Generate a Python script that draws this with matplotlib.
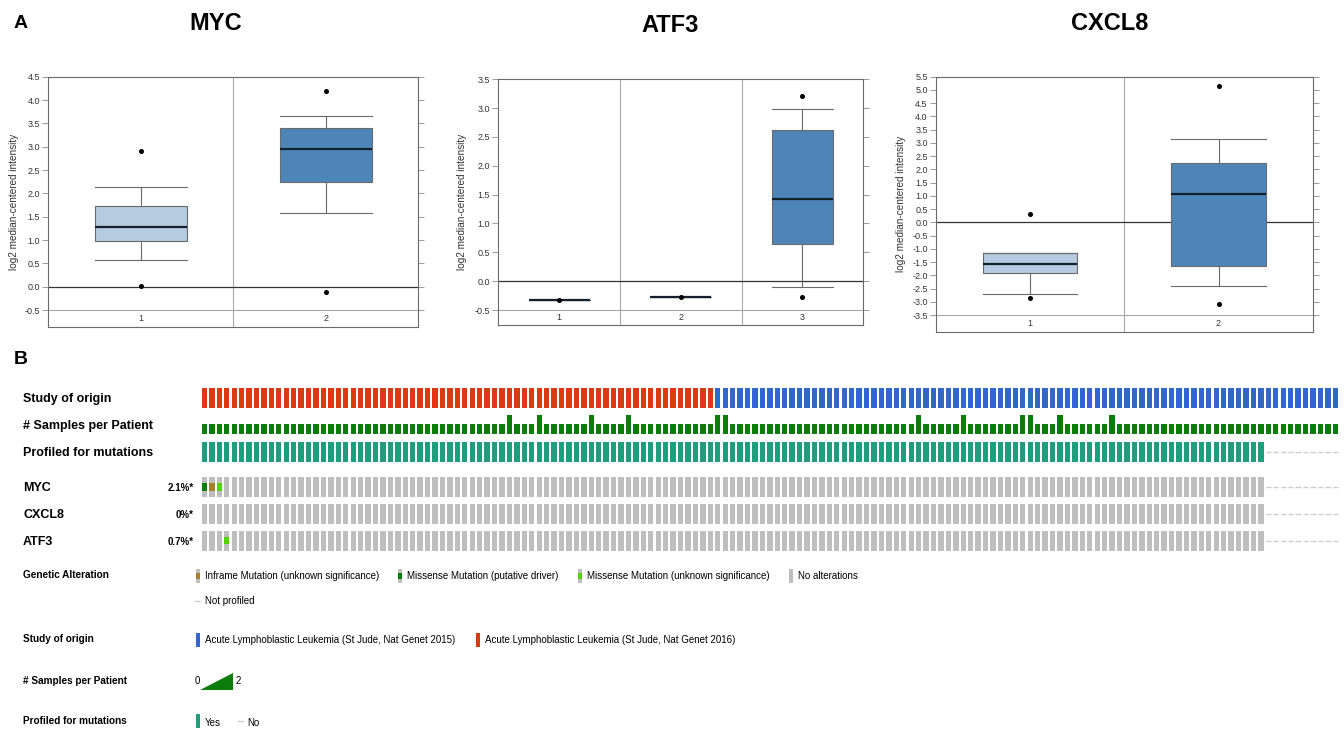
import numpy as np
import matplotlib
matplotlib.use('Agg')
import matplotlib.pyplot as plt
from matplotlib import transforms
from matplotlib.patches import Rectangle, Polygon

W, H = 1344, 730
plt.rcParams['font.family'] = ['Liberation Sans', 'DejaVu Sans']
plt.rcParams['axes.unicode_minus'] = False

# ---------------- Panel A data (box plot statistics) ----------------
myc_groups = ['1', '2']
myc_whislo = [0.57, 1.58]
myc_q1 = [0.98, 2.25]
myc_med = [1.27, 2.96]
myc_q3 = [1.73, 3.41]
myc_whishi = [2.13, 3.65]
myc_fliers = [[2.91, 0.02], [4.19, -0.11]]
myc_yticks = [-0.5, 0.0, 0.5, 1.0, 1.5, 2.0, 2.5, 3.0, 3.5, 4.0, 4.5]

atf3_groups = ['1', '2', '3']
atf3_whislo = [-0.33, -0.28, -0.10]
atf3_q1 = [-0.33, -0.28, 0.65]
atf3_med = [-0.33, -0.28, 1.42]
atf3_q3 = [-0.33, -0.28, 2.62]
atf3_whishi = [-0.33, -0.28, 2.98]
atf3_fliers = [[-0.33], [-0.28], [3.21, -0.27]]
atf3_yticks = [-0.5, 0.0, 0.5, 1.0, 1.5, 2.0, 2.5, 3.0, 3.5]

cxcl8_groups = ['1', '2']
cxcl8_whislo = [-2.69, -2.39]
cxcl8_q1 = [-1.92, -1.65]
cxcl8_med = [-1.58, 1.08]
cxcl8_q3 = [-1.17, 2.24]
cxcl8_whishi = [-1.17, 3.13]
cxcl8_fliers = [[0.31, -2.85], [5.13, -3.10]]
cxcl8_yticks = [-3.5, -3.0, -2.5, -2.0, -1.5, -1.0, -0.5, 0.0, 0.5, 1.0, 1.5,
                2.0, 2.5, 3.0, 3.5, 4.0, 4.5, 5.0, 5.5]

# ---------------- Panel B data (oncoprint) ----------------
n_2016 = 69
n_2015 = 84
two_sample_cases = [41, 45, 52, 57, 69, 70, 96, 102, 110, 111, 115, 122]
n_profiled = 143
genes = ['MYC', 'CXCL8', 'ATF3']
gene_pct = ['2.1%*', '0%*', '0.7%*']
mutations = {
    'MYC': [(0, 'missense_driver'), (1, 'inframe_vus'), (2, 'missense_vus')],
    'CXCL8': [],
    'ATF3': [(3, 'missense_vus')],
}

# colours
C_LIGHT = '#b6cbe0'
C_DARK = '#4d85b9'
C_RED = '#dc3912'
C_BLUE = '#3366cc'
C_SAMP = '#0b7d0b'
C_PROF = '#1e9e7c'
C_GRAY = '#bebebe'
C_NP = '#cccccc'
MUT_COL = {'missense_driver': '#008000', 'inframe_vus': '#a68028', 'missense_vus': '#53d400'}

fig = plt.figure(figsize=(W / 100, H / 100), dpi=100)
fig.patch.set_facecolor('white')

# overlay axes in pixel space for labels / legend
lg = fig.add_axes([0, 0, 1, 1])
lg.set_xlim(0, W)
lg.set_ylim(H, 0)
lg.axis('off')


def panel(rect_px, groups, whislo, q1, med, q3, whishi, fliers, colors, yticks,
          ybot, title, title_xy, ylabel_x):
    l, t, r, b = rect_px
    ax = fig.add_axes([l / W, 1 - b / H, (r - l) / W, (b - t) / H])
    n = len(groups)
    stats = []
    for i in range(n):
        stats.append(dict(label=groups[i], whislo=whislo[i], q1=q1[i], med=med[i],
                          q3=q3[i], whishi=whishi[i], fliers=fliers[i]))
    bp = ax.bxp(stats, positions=list(range(1, n + 1)), widths=0.5, capwidths=0.5,
                patch_artist=True, manage_ticks=False,
                boxprops=dict(edgecolor='#6a6a6a', linewidth=0.8),
                whiskerprops=dict(color='#6a6a6a', linewidth=0.8),
                capprops=dict(color='#6a6a6a', linewidth=0.8),
                medianprops=dict(color='#14202e', linewidth=1.6),
                flierprops=dict(marker='o', markersize=2.6, markerfacecolor='black',
                                markeredgecolor='black'))
    for patch, c in zip(bp['boxes'], colors):
        patch.set_facecolor(c)
    for z in bp['boxes'] + bp['whiskers'] + bp['caps'] + bp['medians'] + bp['fliers']:
        z.set_zorder(3)
    ax.set_xlim(0.5, n + 0.5)
    ax.set_ylim(ybot, yticks[-1])
    for i in range(1, n):
        ax.axvline(i + 0.5, color='#a8a8a8', lw=0.8, zorder=1)
    ax.axhline(0, color='#333333', lw=0.9, zorder=2)
    ax.axhline(yticks[0], color='#a8a8a8', lw=0.8, zorder=1)
    for i, g in enumerate(groups):
        ax.text(i + 1, (ybot + yticks[0]) / 2, g, ha='center', va='center',
                fontsize=6.5, color='#333333')
    ax.set_xticks([])
    ax.set_yticks(yticks)
    ax.set_yticklabels([f'{v:.1f}' for v in yticks])
    ax.tick_params(axis='y', left=True, right=True, direction='out', length=4,
                   width=0.7, color='#9a9a9a', labelsize=6.5, labelcolor='#333333', pad=2)
    for s in ax.spines.values():
        s.set_color('#6a6a6a')
        s.set_linewidth(0.8)
    ax.set_ylabel('log2 median-centered intensity', fontsize=7.2, color='#333333')
    ax.yaxis.set_label_coords((ylabel_x - l) / (r - l), 0.5)
    lg.text(title_xy[0], title_xy[1], title, ha='center', va='center',
            fontsize=17, fontweight='bold')
    return ax


panel((48.3, 76.7, 418.3, 326.7), myc_groups, myc_whislo, myc_q1, myc_med, myc_q3,
      myc_whishi, myc_fliers, [C_LIGHT, C_DARK], myc_yticks, -0.857, 'MYC', (216, 23), 19)
panel((498.3, 79.3, 863.3, 325.0), atf3_groups, atf3_whislo, atf3_q1, atf3_med, atf3_q3,
      atf3_whishi, atf3_fliers, [C_LIGHT, C_LIGHT, C_DARK], atf3_yticks, -0.76, 'ATF3',
      (670, 25), 467)
panel((936.0, 76.7, 1312.7, 331.7), cxcl8_groups, cxcl8_whislo, cxcl8_q1, cxcl8_med,
      cxcl8_q3, cxcl8_whishi, cxcl8_fliers, [C_LIGHT, C_DARK], cxcl8_yticks, -4.13,
      'CXCL8', (1110, 23), 906)

lg.text(14, 24, 'A', fontsize=14, fontweight='bold', va='center', ha='left')
lg.text(14, 360, 'B', fontsize=14, fontweight='bold', va='center', ha='left')

# ---------------- Oncoprint ----------------
n_cases = n_2016 + n_2015
study = ['2016'] * n_2016 + ['2015'] * n_2015
samples = np.array([2 if i in two_sample_cases else 1 for i in range(n_cases)])
x = np.arange(n_cases)

ol, ot, orr, ob = 200.7, 385.0, 1339.0, 555.0
ox = fig.add_axes([ol / W, 1 - ob / H, (orr - ol) / W, (ob - ot) / H])
ox.set_xlim(-0.5, n_cases - 0.5)
ox.set_ylim(5.82, -0.48)
ox.axis('off')

BW = 0.72
RH = 0.74
# study of origin
ox.bar(x, RH, bottom=-RH / 2, width=BW,
       color=[C_RED if s == '2016' else C_BLUE for s in study], linewidth=0)
# samples per patient
ox.bar(x, samples * 0.35, bottom=1.33 - samples * 0.35, width=BW, color=C_SAMP, linewidth=0)
# profiled
prof = x[:n_profiled]
notprof = x[n_profiled:]
ox.bar(prof, RH, bottom=2 - RH / 2, width=BW, color=C_PROF, linewidth=0)
ox.hlines(np.full(len(notprof), 2.0), notprof - BW / 2, notprof + BW / 2, color=C_NP, lw=1)

gene_rows = [3.3, 4.3, 5.3]
for g, yr in zip(genes, gene_rows):
    ox.bar(prof, RH, bottom=yr - RH / 2, width=BW, color=C_GRAY, linewidth=0)
    ox.hlines(np.full(len(notprof), yr), notprof - BW / 2, notprof + BW / 2, color=C_NP, lw=1)
    for ci, mt in mutations[g]:
        ox.bar([ci], 0.26, bottom=yr - 0.13, width=BW, color=MUT_COL[mt], linewidth=0)

# row labels
bt = transforms.blended_transform_factory(fig.transFigure, ox.transData)
track_names = ['Study of origin', '# Samples per Patient', 'Profiled for mutations']
for i, nm in enumerate(track_names):
    ox.text(23 / W, i + 0.05, nm, transform=bt, ha='left', va='center', fontsize=9,
            fontweight='bold')
for g, p, yr in zip(genes, gene_pct, gene_rows):
    ox.text(23 / W, yr + 0.05, g, transform=bt, ha='left', va='center', fontsize=9,
            fontweight='bold')
    ox.text(194 / W, yr + 0.05, p, transform=bt, ha='right', va='center', fontsize=7,
            fontweight='bold')

# ---------------- Legend ----------------
LFS = 7
HFS = 7.2


def icon(xp, yc, inner=None, color=C_GRAY):
    lg.add_patch(Rectangle((xp, yc - 7), 4, 14, color=color, lw=0))
    if inner is not None:
        lg.add_patch(Rectangle((xp, yc - 3), 4, 6, color=inner, lw=0))


lg.text(23, 575, 'Genetic Alteration', fontsize=HFS, fontweight='bold', va='center')
icon(196, 576, MUT_COL['inframe_vus'])
lg.text(205, 576, 'Inframe Mutation (unknown significance)', fontsize=LFS, va='center')
icon(398, 576, MUT_COL['missense_driver'])
lg.text(407, 576, 'Missense Mutation (putative driver)', fontsize=LFS, va='center')
icon(578, 576, MUT_COL['missense_vus'])
lg.text(587, 576, 'Missense Mutation (unknown significance)', fontsize=LFS, va='center')
icon(789, 576)
lg.text(798, 576, 'No alterations', fontsize=LFS, va='center')
lg.plot([195, 200], [601, 601], color=C_NP, lw=1)
lg.text(205, 601, 'Not profiled', fontsize=LFS, va='center')

lg.text(23, 639, 'Study of origin', fontsize=HFS, fontweight='bold', va='center')
icon(196, 640, color=C_BLUE)
lg.text(205, 640, 'Acute Lymphoblastic Leukemia (St Jude, Nat Genet 2015)', fontsize=LFS,
        va='center')
icon(476, 640, color=C_RED)
lg.text(485, 640, 'Acute Lymphoblastic Leukemia (St Jude, Nat Genet 2016)', fontsize=LFS,
        va='center')

lg.text(23, 681, '# Samples per Patient', fontsize=HFS, fontweight='bold', va='center')
lg.text(195, 681, '0', fontsize=LFS, va='center')
lg.add_patch(Polygon([(200, 690), (233, 690), (233, 673)], closed=True, color=C_SAMP, lw=0))
lg.text(236, 681, '2', fontsize=LFS, va='center')

lg.text(23, 721, 'Profiled for mutations', fontsize=HFS, fontweight='bold', va='center')
icon(196, 721, color=C_PROF)
lg.text(205, 723, 'Yes', fontsize=LFS, va='center')
lg.plot([238, 243], [721, 721], color=C_NP, lw=1)
lg.text(247, 723, 'No', fontsize=LFS, va='center')

fig.savefig('out.png', dpi=100, facecolor='white')
